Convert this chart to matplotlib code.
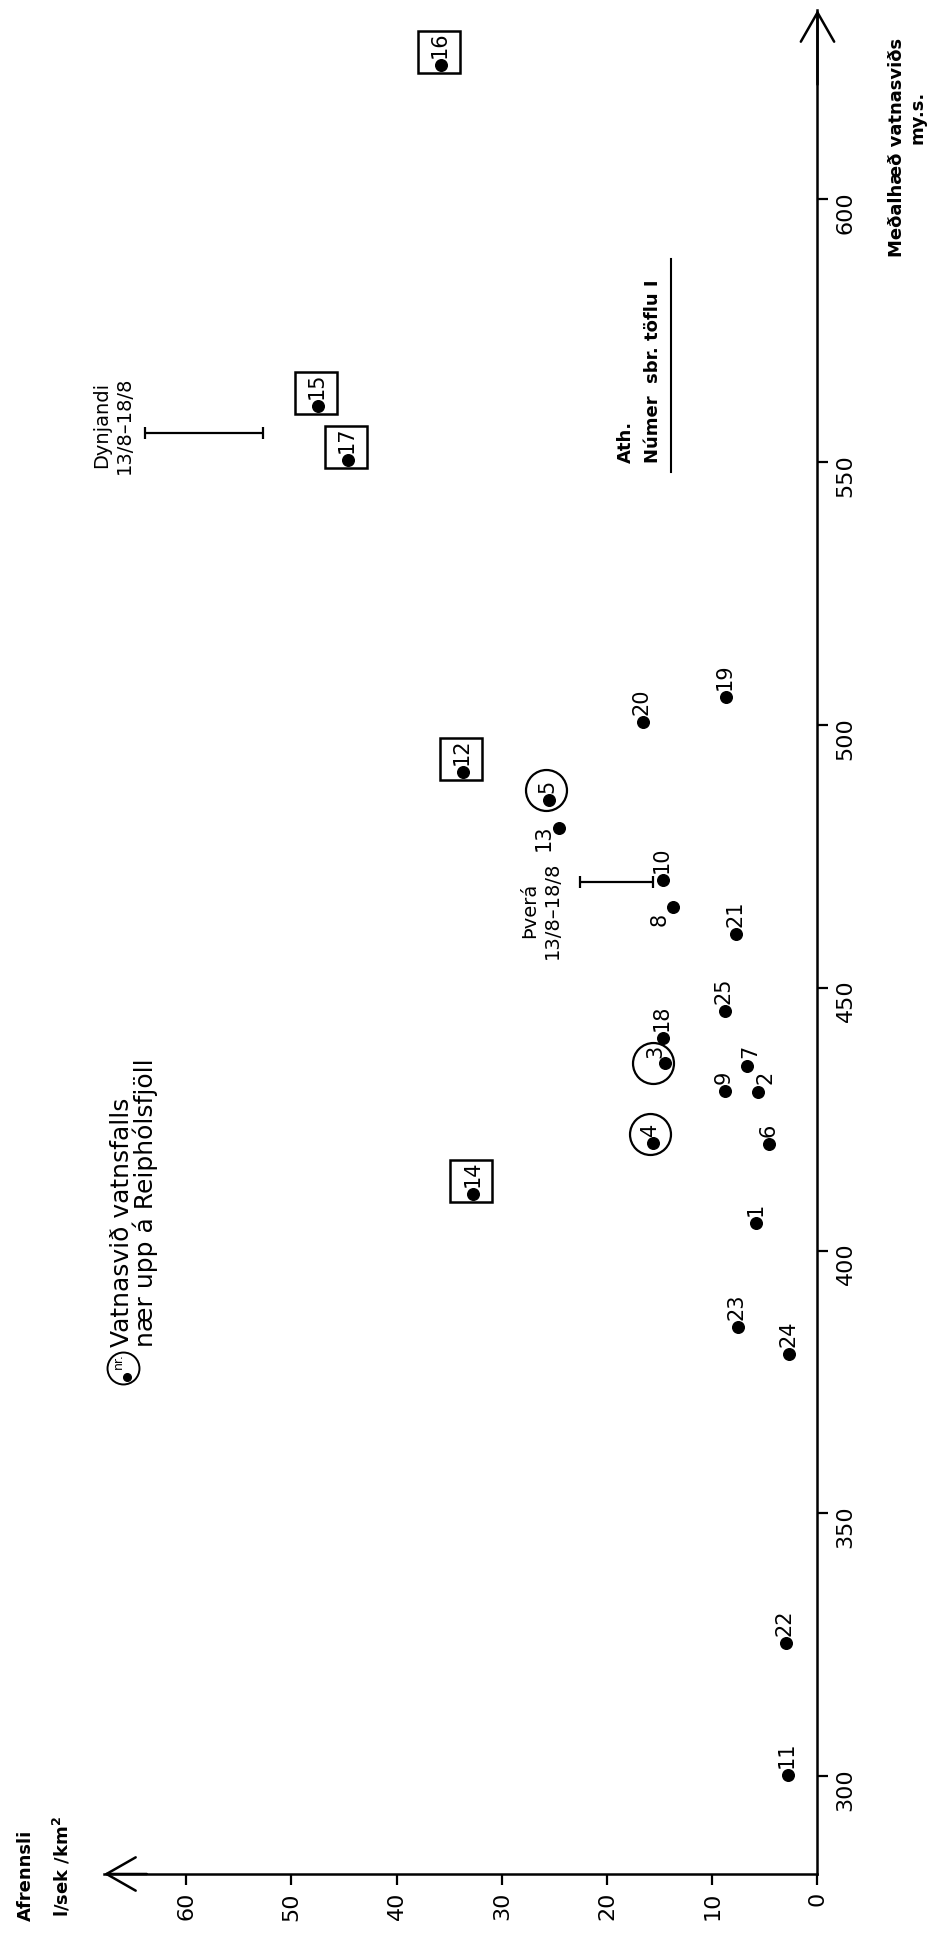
import matplotlib.pyplot as plt
from matplotlib import transforms
from matplotlib.lines import Line2D

# Stöðvar: númer, meðalhæð vatnasviðs (m y.s.) og afrennsli (l/sek/km2)
nr = list(range(1, 26))
hæð = [405.3, 430.1, 435.7, 420.4, 485.7, 420.2, 435.2, 465.4, 430.4, 470.5,
       300.2, 491.0, 480.4, 410.7, 560.6, 625.6, 550.4, 440.5, 505.4, 500.6,
       460.3, 325.4, 385.4, 380.3, 445.5]
afrennsli = [5.8, 5.7, 14.5, 15.6, 25.5, 4.6, 6.7, 13.7, 8.8, 14.7,
             2.8, 33.7, 24.6, 32.7, 47.5, 35.8, 44.6, 14.7, 8.7, 16.6,
             7.7, 3.0, 7.6, 2.7, 8.8]

# vatnasvið sem ná upp á Reiphólsfjöll (hringur) og önnur merkt í kassa
hringir = [3, 4, 5]
kassar = [12, 14, 15, 16, 17]

# mælingar 13/8-18/8, bil afrennslis
bil_nöfn = ["Dynjandi", "Þverá"]
bil_hæð = [555.5, 470.2]
bil_lágt = [52.7, 15.6]
bil_hátt = [63.9, 22.6]

W, H = 939, 1935
fig = plt.figure(figsize=(W / 100, H / 100), dpi=100)
# pixel coordinates, y downwards
px = transforms.Affine2D().scale(1, -1).translate(0, H)

x0, x1, y0, y1 = 104, 817.5, 10, 1874
ax = fig.add_axes([x0 / W, 1 - y1 / H, (x1 - x0) / W, (y1 - y0) / H])
ax.set_xlim(67.8, 0)
ax.set_ylim(281.4, 636)
ax.patch.set_alpha(0)
for s in ["left", "top"]:
    ax.spines[s].set_visible(False)
for s in ["right", "bottom"]:
    ax.spines[s].set_linewidth(1.8)
ax.yaxis.tick_right()
ax.set_xticks(range(0, 61, 10))
ax.set_yticks(range(300, 601, 50))
ax.tick_params(length=8, width=1.6, labelsize=16, labelrotation=90, pad=5)

# örvar á endum ása
arr = dict(arrowstyle="->,head_length=1.05,head_width=0.6", lw=1.8,
           shrinkA=0, shrinkB=0, mutation_scale=20, color="black")
ax.annotate("", xy=(0, 0), xytext=(0.06, 0), xycoords="axes fraction", arrowprops=arr)
ax.annotate("", xy=(1, 1), xytext=(1, 0.96), xycoords="axes fraction", arrowprops=arr)

ax.scatter(afrennsli, hæð, s=70, color="black", zorder=3, clip_on=False)

# staðsetning númera miðað við punkt (pixlar)
merki = {13: (-15, -10, "center"), 8: (-14, -13, "center"),
         3: (-10, 12, "center"), 7: (3, 8, "bottom"), 2: (8, 8, "bottom"),
         4: (-3, 7, "bottom"), 5: (-2, 7, "bottom")}
for n, e, a in zip(nr, hæð, afrennsli):
    dx, dy, va = merki.get(n, (-1, 7, "bottom"))
    ax.annotate(str(n), (a, e), xytext=(dx, dy), textcoords="offset pixels",
                rotation=90, ha="center", va=va, fontsize=15)

for n in kassar:
    i = nr.index(n)
    tr = transforms.offset_copy(ax.transData, fig=fig, x=-2, y=13, units="dots")
    ax.plot(afrennsli[i], hæð[i], marker="s", ms=30, mfc="none", mec="black",
            mew=1.8, transform=tr, clip_on=False)

hring_færsla = {3: (-12, 0), 4: (-3, 9), 5: (-3, 10)}
for n in hringir:
    i = nr.index(n)
    dx, dy = hring_færsla[n]
    tr = transforms.offset_copy(ax.transData, fig=fig, x=dx, y=dy, units="dots")
    ax.plot(afrennsli[i], hæð[i], marker="o", ms=29.5, mfc="none", mec="black",
            mew=1.6, transform=tr, clip_on=False)

for lo, hi, e in zip(bil_lágt, bil_hátt, bil_hæð):
    ax.errorbar((lo + hi) / 2, e, xerr=(hi - lo) / 2, fmt="none", ecolor="black",
                elinewidth=1.6, capsize=4.5, capthick=1.6)

# textar
txt = dict(transform=px, rotation=90, ha="center", va="center")
fig.text(897, 147, "Meðalhæð vatnasviðs", fontsize=13, fontweight="bold", **txt)
fig.text(918, 117, "my.s.", fontsize=13, fontweight="bold", **txt)
fig.text(26, 1875, "Afrennsli", fontsize=13, fontweight="bold", **txt)
fig.text(62, 1866, r"l/sek /km$^{\mathbf{2}}$", fontsize=13, fontweight="bold", **txt)
fig.text(113, 425, bil_nöfn[0] + "\n13/8–18/8", fontsize=14,
         multialignment="center", linespacing=1.25, **txt)
fig.text(541, 910, bil_nöfn[1] + "\n13/8–18/8", fontsize=14,
         multialignment="center", linespacing=1.3, **txt)
fig.text(639, 463, "Ath.\nNúmer  sbr. töflu I", fontsize=13, fontweight="bold",
         transform=px, rotation=90, ha="center", va="bottom",
         multialignment="left", linespacing=1.65)
fig.add_artist(Line2D([671, 671], [259, 472], transform=px, color="black", lw=1.5))

# skýring: hringur með "nr." og punkti
fig.add_artist(Line2D([123], [1368], transform=px, marker="o", ms=23, mfc="none",
                      mec="black", mew=1.4))
fig.add_artist(Line2D([127], [1377], transform=px, marker="o", ms=5.5, color="black"))
fig.text(118, 1361, "nr.", fontsize=9, **txt)
fig.text(134, 1347, "Vatnasvið vatnsfalls\nnær upp á Reiphólsfjöll", fontsize=18,
         transform=px, rotation=90, ha="center", va="bottom",
         multialignment="left", linespacing=0.95)

fig.savefig("out.png", dpi=100)
